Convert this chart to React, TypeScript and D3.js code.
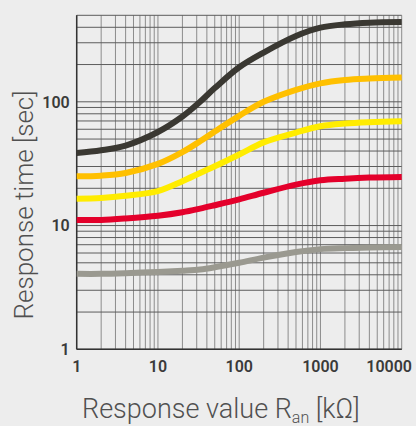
import * as d3 from "d3";
import React, { useEffect, useRef } from "react";

const resistance = [1, 2, 4, 10, 20, 33, 50, 100, 200, 500, 1000, 2000, 4000, 10000];

// response times (sec) per curve
const blackSeries = [38.6, 40.6, 44.3, 57, 76, 100, 129, 190, 250, 340, 397, 423, 436, 441];
const orangeSeries = [25, 25.3, 26.6, 31.5, 39.2, 48, 57.5, 77, 100, 125, 141, 150, 154, 157];
const yellowSeries = [16.5, 16.7, 17.4, 19, 22.8, 26.6, 30.1, 37.5, 47, 56.4, 63.4, 66.7, 68.4, 69.6];
const redSeries = [11.1, 11.1, 11.4, 12, 12.8, 13.7, 14.6, 16.3, 18.4, 21.4, 23.2, 23.9, 24.4, 24.7];
const graySeries = [4.07, 4.07, 4.12, 4.22, 4.32, 4.42, 4.6, 5.0, 5.5, 6.12, 6.45, 6.57, 6.64, 6.7];

const xTickLabels = [1, 10, 100, 1000, 10000];
const yTickLabels = [1, 10, 100];

const App = () => {
  const ref = useRef<SVGSVGElement>(null);

  useEffect(() => {
    drawChart();
  }, []);

  const drawChart = () => {
    const width = 416;
    const height = 426;
    const margin = { top: 15.3, right: 14.3, bottom: 76.7, left: 76.7 };

    const svg = d3.select(ref.current);
    svg.selectAll("*").remove();

    svg.append("rect").attr("width", width).attr("height", height).attr("fill", "#ededed");

    const x = d3.scaleLog().domain([1, 10000]).range([margin.left, width - margin.right]);
    const y = d3.scaleLog().domain([1, 500]).range([height - margin.bottom, margin.top]);

    // vertical grid
    svg
      .append("g")
      .selectAll("line")
      .data(x.ticks())
      .enter()
      .append("line")
      .attr("x1", (d) => x(d))
      .attr("x2", (d) => x(d))
      .attr("y1", y(1))
      .attr("y2", y(500))
      .attr("stroke", "#8c8c8c")
      .attr("stroke-width", 1);

    // horizontal grid
    svg
      .append("g")
      .selectAll("line")
      .data(y.ticks().concat([500]).filter((d, i, a) => a.indexOf(d) === i))
      .enter()
      .append("line")
      .attr("x1", x(1))
      .attr("x2", x(10000))
      .attr("y1", (d) => y(d))
      .attr("y2", (d) => y(d))
      .attr("stroke", "#5c5c5c")
      .attr("stroke-width", 1);

    // axis lines
    svg
      .append("line")
      .attr("x1", x(1))
      .attr("x2", x(1))
      .attr("y1", y(500))
      .attr("y2", y(1))
      .attr("stroke", "#333")
      .attr("stroke-width", 1.5);
    svg
      .append("line")
      .attr("x1", x(1))
      .attr("x2", x(10000))
      .attr("y1", y(1))
      .attr("y2", y(1))
      .attr("stroke", "#333")
      .attr("stroke-width", 1.5);

    const series = [
      { values: graySeries, color: "#9a9990" },
      { values: redSeries, color: "#e4002b" },
      { values: yellowSeries, color: "#ffec00" },
      { values: orangeSeries, color: "#ffc000" },
      { values: blackSeries, color: "#3a3832" },
    ];

    const line = d3
      .line<[number, number]>()
      .x((d) => x(d[0]))
      .y((d) => y(d[1]))
      .curve(d3.curveCatmullRom.alpha(0.5));

    svg
      .append("g")
      .selectAll("path")
      .data(series)
      .enter()
      .append("path")
      .attr("d", (s) => line(resistance.map((r, i) => [r, s.values[i]] as [number, number])))
      .attr("fill", "none")
      .attr("stroke", (s) => s.color)
      .attr("stroke-width", 6);

    const tickFont = "Roboto, 'Noto Sans', sans-serif";

    // y tick labels
    svg
      .append("g")
      .selectAll("text")
      .data(yTickLabels)
      .enter()
      .append("text")
      .attr("x", x(1) - 7)
      .attr("y", (d) => y(d))
      .attr("dy", "0.36em")
      .attr("text-anchor", "end")
      .attr("font-family", tickFont)
      .attr("font-size", 16)
      .attr("font-weight", 600)
      .attr("fill", "#3a3a3a")
      .text((d) => d);

    // x tick labels, the last one is pulled inside the picture
    svg
      .append("g")
      .selectAll("text")
      .data(xTickLabels)
      .enter()
      .append("text")
      .attr("x", (d) => (d === 10000 ? width - 4 : x(d)))
      .attr("y", y(1) + 16.5)
      .attr("dy", "0.36em")
      .attr("text-anchor", (d) => (d === 10000 ? "end" : "middle"))
      .attr("font-family", tickFont)
      .attr("font-size", 16)
      .attr("font-weight", 600)
      .attr("fill", "#3a3a3a")
      .text((d) => d);

    // axis titles
    svg
      .append("text")
      .attr("transform", "translate(33,205) rotate(-90)")
      .attr("text-anchor", "middle")
      .attr("font-family", tickFont)
      .attr("font-size", 26)
      .attr("font-weight", 300)
      .attr("fill", "#505050")
      .text("Response time [sec]");

    const xTitle = svg
      .append("text")
      .attr("x", 82)
      .attr("y", 418)
      .attr("font-family", tickFont)
      .attr("font-size", 27)
      .attr("font-weight", 300)
      .attr("fill", "#505050");
    xTitle.append("tspan").text("Response value R");
    xTitle.append("tspan").attr("dy", 5).attr("font-size", 16).text("an");
    xTitle.append("tspan").attr("dy", -5).text(" [kΩ]");
  };

  return (
    <svg
      ref={ref}
      width={416}
      height={426}
      style={{ position: "absolute", top: 0, left: 0, display: "block" }}
    />
  );
};

export default App;
